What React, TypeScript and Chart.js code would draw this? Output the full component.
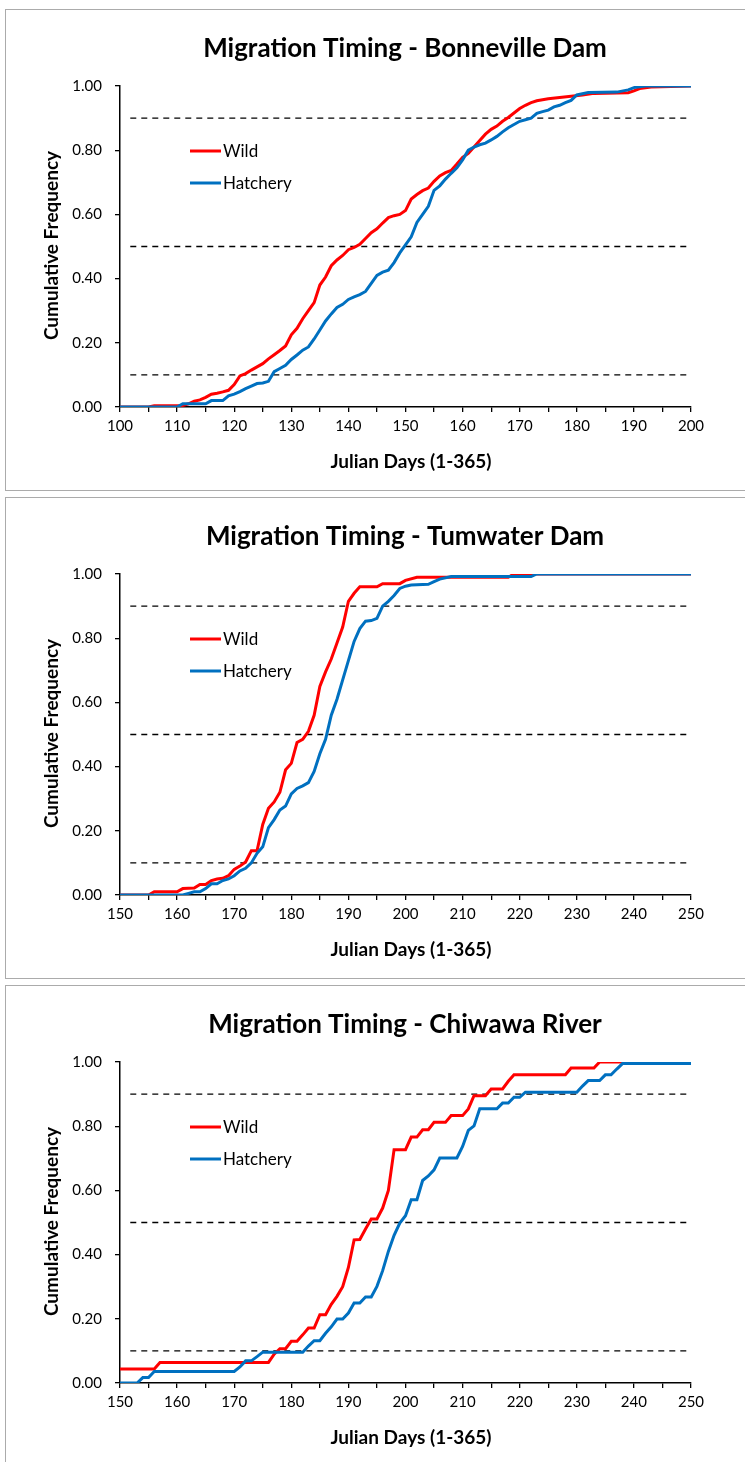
import React, { useEffect, useRef } from "react";
import { Chart, registerables } from "chart.js";

Chart.register(...registerables);

// ---------- DATA ----------
const thresholdLevels = [0.1, 0.5, 0.9];

// Bonneville Dam (x axis 100-200)
const bonnevilleTitle = "Migration Timing - Bonneville Dam";
const bonnevilleRange = [100, 200];
const bonnevilleRefDays = [101.8, 199.5];
const bonnevilleWildDays = [100, 105, 106, 111, 112, 113, 114, 115, 116, 117, 118, 119, 120, 121, 122, 123, 124, 125, 126, 127, 128, 129, 130, 131, 132, 133, 134, 135, 136, 137, 138, 139, 140, 141, 142, 143, 144, 145, 146, 147, 148, 149, 150, 151, 152, 153, 154, 155, 156, 157, 158, 159, 160, 161, 162, 163, 164, 165, 166, 167, 168, 169, 170, 171, 172, 173, 175, 177, 179, 181, 183, 189, 190, 191, 193, 200];
const bonnevilleWildFreq = [0, 0, 0.004, 0.005, 0.01, 0.018, 0.022, 0.03, 0.04, 0.043, 0.047, 0.052, 0.07, 0.097, 0.104, 0.115, 0.125, 0.135, 0.15, 0.163, 0.176, 0.19, 0.225, 0.245, 0.275, 0.3, 0.325, 0.38, 0.405, 0.44, 0.458, 0.472, 0.49, 0.497, 0.507, 0.525, 0.543, 0.555, 0.573, 0.59, 0.596, 0.6, 0.612, 0.648, 0.662, 0.674, 0.682, 0.703, 0.72, 0.73, 0.737, 0.757, 0.778, 0.79, 0.81, 0.83, 0.85, 0.865, 0.875, 0.89, 0.902, 0.916, 0.93, 0.94, 0.948, 0.954, 0.96, 0.964, 0.968, 0.972, 0.977, 0.979, 0.985, 0.992, 0.997, 1.0];
const bonnevilleHatchDays = [100, 110, 111, 115, 116, 118, 119, 120, 121, 122, 123, 124, 125, 126, 127, 128, 129, 130, 131, 132, 133, 134, 135, 136, 137, 138, 139, 140, 141, 142, 143, 144, 145, 146, 147, 148, 149, 150, 151, 152, 153, 154, 155, 156, 157, 158, 159, 160, 161, 162, 163, 164, 165, 166, 167, 168, 169, 170, 171, 172, 173, 174, 175, 176, 177, 178, 179, 180, 182, 187, 189, 190, 192, 200];
const bonnevilleHatchFreq = [0, 0, 0.01, 0.01, 0.02, 0.02, 0.035, 0.04, 0.048, 0.057, 0.065, 0.073, 0.075, 0.08, 0.11, 0.12, 0.13, 0.148, 0.162, 0.177, 0.187, 0.212, 0.24, 0.268, 0.29, 0.31, 0.32, 0.335, 0.343, 0.35, 0.36, 0.385, 0.41, 0.42, 0.426, 0.45, 0.48, 0.505, 0.53, 0.575, 0.6, 0.625, 0.675, 0.689, 0.71, 0.728, 0.745, 0.77, 0.8, 0.81, 0.817, 0.822, 0.832, 0.843, 0.857, 0.87, 0.88, 0.89, 0.895, 0.9, 0.915, 0.92, 0.925, 0.935, 0.94, 0.948, 0.955, 0.972, 0.98, 0.981, 0.988, 0.995, 1.0, 1.0];

// Tumwater Dam (x axis 150-250)
const tumwaterTitle = "Migration Timing - Tumwater Dam";
const tumwaterRange = [150, 250];
const tumwaterRefDays = [151.8, 249.5];
const tumwaterWildDays = [150, 155, 156, 160, 161, 163, 164, 165, 166, 167, 168, 169, 170, 171, 172, 173, 174, 175, 176, 177, 178, 179, 180, 181, 182, 183, 184, 185, 186, 187, 188, 189, 190, 191, 192, 195, 196, 199, 200, 202, 218, 219, 250];
const tumwaterWildFreq = [0, 0, 0.01, 0.01, 0.02, 0.022, 0.033, 0.033, 0.045, 0.05, 0.052, 0.06, 0.08, 0.09, 0.103, 0.138, 0.138, 0.22, 0.27, 0.29, 0.32, 0.39, 0.41, 0.475, 0.485, 0.51, 0.56, 0.65, 0.695, 0.735, 0.785, 0.835, 0.915, 0.94, 0.96, 0.96, 0.97, 0.97, 0.98, 0.99, 0.99, 1.0, 1.0];
const tumwaterHatchDays = [150, 161, 162, 163, 164, 165, 166, 167, 168, 169, 170, 171, 172, 173, 174, 175, 176, 177, 178, 179, 180, 181, 182, 183, 184, 185, 186, 187, 188, 189, 190, 191, 192, 193, 194, 195, 196, 197, 198, 199, 200, 201, 204, 205, 206, 208, 222, 223, 250];
const tumwaterHatchFreq = [0, 0, 0.005, 0.01, 0.01, 0.02, 0.035, 0.035, 0.045, 0.05, 0.06, 0.075, 0.083, 0.1, 0.13, 0.15, 0.21, 0.235, 0.265, 0.277, 0.315, 0.332, 0.34, 0.35, 0.385, 0.44, 0.485, 0.56, 0.61, 0.67, 0.73, 0.79, 0.83, 0.853, 0.855, 0.862, 0.9, 0.915, 0.933, 0.955, 0.962, 0.966, 0.968, 0.976, 0.984, 0.992, 0.992, 1.0, 1.0];

// Chiwawa River (x axis 150-250)
const chiwawaTitle = "Migration Timing - Chiwawa River";
const chiwawaRange = [150, 250];
const chiwawaRefDays = [151.8, 249.5];
const chiwawaWildDays = [150, 156, 157, 176, 177, 178, 179, 180, 181, 182, 183, 184, 185, 186, 187, 188, 189, 190, 191, 192, 193, 194, 195, 196, 197, 198, 200, 201, 202, 203, 204, 205, 207, 208, 210, 211, 212, 214, 215, 217, 218, 219, 228, 229, 233, 234, 250];
const chiwawaWildFreq = [0.044, 0.044, 0.064, 0.064, 0.09, 0.107, 0.107, 0.13, 0.13, 0.15, 0.171, 0.171, 0.213, 0.213, 0.245, 0.27, 0.3, 0.36, 0.446, 0.447, 0.48, 0.511, 0.511, 0.545, 0.6, 0.727, 0.727, 0.766, 0.766, 0.789, 0.789, 0.812, 0.812, 0.833, 0.833, 0.854, 0.895, 0.895, 0.916, 0.916, 0.94, 0.96, 0.96, 0.981, 0.981, 1.0, 1.0];
const chiwawaHatchDays = [150, 153, 154, 155, 156, 170, 171, 172, 173, 174, 175, 182, 183, 184, 185, 186, 187, 188, 189, 190, 191, 192, 193, 194, 195, 196, 197, 198, 199, 200, 201, 202, 203, 204, 205, 206, 209, 210, 211, 212, 213, 216, 217, 218, 219, 220, 221, 230, 231, 232, 234, 235, 236, 237, 238, 250];
const chiwawaHatchFreq = [0, 0, 0.017, 0.017, 0.036, 0.036, 0.05, 0.069, 0.069, 0.082, 0.096, 0.096, 0.115, 0.132, 0.132, 0.155, 0.175, 0.199, 0.199, 0.218, 0.249, 0.249, 0.268, 0.268, 0.301, 0.35, 0.41, 0.46, 0.498, 0.521, 0.571, 0.571, 0.631, 0.645, 0.664, 0.701, 0.701, 0.737, 0.787, 0.801, 0.854, 0.854, 0.872, 0.872, 0.89, 0.89, 0.906, 0.906, 0.925, 0.942, 0.942, 0.96, 0.96, 0.978, 0.995, 0.995];

const seriesNames = ["Wild", "Hatchery"];
const xAxisTitle = "Julian Days (1-365)";
const yAxisTitle = "Cumulative Frequency";

// ---------- STYLE ----------
const WILD_COLOR = "#FF0000";
const HATCH_COLOR = "#0070C0";
const FONT = "Lato, 'Open Sans', sans-serif";

const PANEL_PITCH = 488;
const CANVAS_W = 739;
const CANVAS_H = 480;

type PanelDef = {
  title: string;
  range: number[];
  refDays: number[];
  wildDays: number[];
  wildFreq: number[];
  hatchDays: number[];
  hatchFreq: number[];
};

const panels: PanelDef[] = [
  { title: bonnevilleTitle, range: bonnevilleRange, refDays: bonnevilleRefDays, wildDays: bonnevilleWildDays, wildFreq: bonnevilleWildFreq, hatchDays: bonnevilleHatchDays, hatchFreq: bonnevilleHatchFreq },
  { title: tumwaterTitle, range: tumwaterRange, refDays: tumwaterRefDays, wildDays: tumwaterWildDays, wildFreq: tumwaterWildFreq, hatchDays: tumwaterHatchDays, hatchFreq: tumwaterHatchFreq },
  { title: chiwawaTitle, range: chiwawaRange, refDays: chiwawaRefDays, wildDays: chiwawaWildDays, wildFreq: chiwawaWildFreq, hatchDays: chiwawaHatchDays, hatchFreq: chiwawaHatchFreq },
];

const zip = (xs: number[], ys: number[]) => xs.map((x, i) => ({ x, y: ys[i] }));

function makeTextPlugin(title: string) {
  return {
    id: "panelText",
    afterDraw(chart: any) {
      const ctx = chart.ctx as CanvasRenderingContext2D;
      const area = chart.chartArea;
      ctx.save();
      ctx.fillStyle = "#000";
      // title
      ctx.font = `bold 26px ${FONT}`;
      ctx.textAlign = "center";
      ctx.textBaseline = "middle";
      ctx.fillText(title, 399, 39);
      // x axis title
      ctx.font = `bold 19px ${FONT}`;
      ctx.fillText(xAxisTitle, 405, 452);
      // y axis title
      ctx.save();
      ctx.translate(46, (area.top + area.bottom) / 2 - 1);
      ctx.rotate(-Math.PI / 2);
      ctx.fillText(yAxisTitle, 0, 0);
      ctx.restore();
      // legend
      const legendColors = [WILD_COLOR, HATCH_COLOR];
      ctx.font = `17px ${FONT}`;
      ctx.textAlign = "left";
      seriesNames.forEach((name, i) => {
        const y = 141 + i * 32;
        ctx.strokeStyle = legendColors[i];
        ctx.lineWidth = 3;
        ctx.beginPath();
        ctx.moveTo(184, y);
        ctx.lineTo(215, y);
        ctx.stroke();
        ctx.fillStyle = "#000";
        ctx.fillText(name, 217, y + 1);
      });
      ctx.restore();
    },
  };
}

function Panel({ def, index }: { def: PanelDef; index: number }) {
  const ref = useRef<HTMLCanvasElement | null>(null);
  useEffect(() => {
    if (!ref.current) return;
    const refSets = thresholdLevels.map((lvl) => ({
      label: "ref" + lvl,
      data: def.refDays.map((d) => ({ x: d, y: lvl })),
      borderColor: "#000",
      borderWidth: 1.3,
      borderDash: [6, 5],
      pointRadius: 0,
      fill: false,
    }));
    const chart = new Chart(ref.current, {
      type: "line",
      data: {
        datasets: [
          {
            label: seriesNames[1],
            data: zip(def.hatchDays, def.hatchFreq),
            borderColor: HATCH_COLOR,
            borderWidth: 3,
            pointRadius: 0,
            tension: 0,
            fill: false,
          },
          {
            label: seriesNames[0],
            data: zip(def.wildDays, def.wildFreq),
            borderColor: WILD_COLOR,
            borderWidth: 3,
            pointRadius: 0,
            tension: 0,
            fill: false,
          },
          ...refSets,
        ],
      },
      options: {
        animation: false,
        responsive: false,
        devicePixelRatio: 1,
        layout: { padding: { left: 0, top: 76, right: 54, bottom: 0 } },
        plugins: {
          legend: { display: false },
          title: { display: false },
          tooltip: { enabled: false },
        },
        scales: {
          x: {
            type: "linear",
            min: def.range[0],
            max: def.range[1],
            afterFit: (s: any) => {
              s.height = 83;
            },
            border: { display: true, color: "#000", width: 1.5 },
            grid: { drawOnChartArea: false, drawTicks: true, tickLength: 5, color: "#000", lineWidth: 1.3 },
            ticks: {
              stepSize: 5,
              autoSkip: false,
              maxRotation: 0,
              padding: 5,
              color: "#000",
              font: { family: FONT, size: 15 },
              callback: (v: any) => (Number(v) % 10 === 0 ? String(v) : ""),
            },
          },
          y: {
            type: "linear",
            min: 0,
            max: 1,
            afterFit: (s: any) => {
              s.width = 114;
            },
            border: { display: true, color: "#000", width: 1.5 },
            grid: { drawOnChartArea: false, drawTicks: true, tickLength: 5, color: "#000", lineWidth: 1.3 },
            ticks: {
              stepSize: 0.2,
              padding: 13,
              color: "#000",
              font: { family: FONT, size: 15 },
              callback: (v: any) => Number(v).toFixed(2),
            },
          },
        },
      },
      plugins: [makeTextPlugin(def.title)],
    } as any);
    return () => chart.destroy();
  }, [def]);

  const top = 9 + index * PANEL_PITCH;
  return (
    <div
      style={{
        position: "absolute",
        left: 5,
        top,
        width: 760,
        height: 482,
        boxSizing: "border-box",
        border: "1px solid #ababab",
        background: "#fff",
      }}
    >
      <canvas ref={ref} width={CANVAS_W} height={CANVAS_H} style={{ display: "block", width: CANVAS_W, height: CANVAS_H }} />
    </div>
  );
}

export default function App() {
  return (
    <div
      style={{
        position: "absolute",
        left: 0,
        top: 0,
        width: 745,
        height: 1462,
        overflow: "hidden",
        background: "#fff",
      }}
    >
      {panels.map((p, i) => (
        <Panel key={i} def={p} index={i} />
      ))}
    </div>
  );
}
